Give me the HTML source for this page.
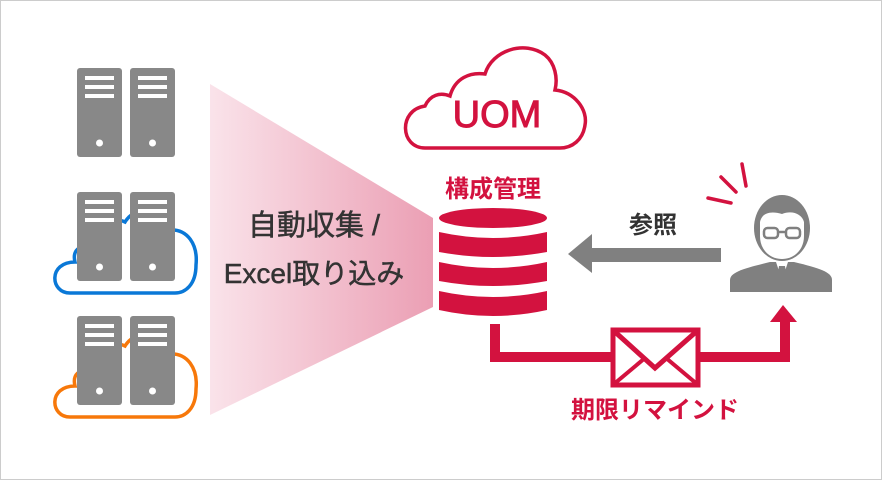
<!DOCTYPE html>
<html><head><meta charset="utf-8"><style>
html,body{margin:0;padding:0;background:#fff}
body{width:882px;height:480px;overflow:hidden}
text{font-family:"Liberation Sans","Noto Sans CJK JP",sans-serif}
</style></head><body>
<svg width="882" height="480" viewBox="0 0 882 480" xmlns="http://www.w3.org/2000/svg">
<defs>
<linearGradient id="g" x1="0" x2="1" y1="0" y2="0">
<stop offset="0" stop-color="#fae3ea"/><stop offset="1" stop-color="#eb9fb4"/>
</linearGradient>
<g id="srv">
<rect x="0" y="0" width="45" height="89" rx="3" fill="#888"/>
<rect x="8" y="8" width="29" height="4" fill="#fff"/>
<rect x="8" y="17" width="29" height="4" fill="#fff"/>
<rect x="8" y="26" width="29" height="4" fill="#fff"/>
<circle cx="22.5" cy="75" r="3.5" fill="#fff"/>
</g>
</defs>
<rect x="0.5" y="0.5" width="881" height="479" fill="#fff" stroke="#ccc"/>
<polygon points="210,84 433,218 433,307 210,415" fill="url(#g)"/>
<path d="M75,262 C72,250 80,245 90,246 C92,225 110,215 125,222 C135,205 160,208 168,230 C188,228 198,245 196,265 C196,285 185,293 175,293 L70,293 C50,293 48,262 75,262 Z" fill="none" stroke="#0a78d7" stroke-width="3.5"/>
<path d="M75,386 C72,374 80,369 90,370 C92,349 110,339 125,346 C135,329 160,332 168,354 C188,352 198,369 196,389 C196,409 185,417 175,417 L70,417 C50,417 48,386 75,386 Z" fill="none" stroke="#f7780a" stroke-width="3.5"/>
<use href="#srv" x="77" y="68"/><use href="#srv" x="130" y="68"/>
<use href="#srv" x="77" y="192"/><use href="#srv" x="130" y="192"/>
<use href="#srv" x="77" y="316"/><use href="#srv" x="130" y="316"/>
<text x="314" y="235" font-size="29" fill="#333" stroke="#333" stroke-width="0.5" text-anchor="middle">自動収集 /</text>
<text x="314" y="283" font-size="28" fill="#333" stroke="#333" stroke-width="0.5" text-anchor="middle">Excel取り込み</text>
<path d="M425,148 C400,148 398,110 425,106 C430,95 440,92 450,96 C455,78 470,72 485,74 C492,50 525,40 545,55 C555,63 558,78 555,90 C575,92 588,110 585,125 C583,140 572,148 560,148 Z" fill="none" stroke="#d3123f" stroke-width="3.5"/>
<text x="497" y="127" font-size="38" fill="#d3123f" stroke="#d3123f" stroke-width="1" text-anchor="middle">UOM</text>
<text x="493" y="197" font-size="24" font-weight="bold" fill="#d3123f" text-anchor="middle">構成管理</text>
<g fill="#d3123f">
<ellipse cx="493" cy="218" rx="54" ry="10"/>
<path d="M439,232 Q493,244 547,232 L547,252 Q493,262 439,252 Z"/>
<path d="M439,262 Q493,274 547,262 L547,281 Q493,291 439,281 Z"/>
<path d="M439,291 Q493,303 547,291 L547,310 Q493,322 439,310 Z"/>
</g>
<polygon points="568,254 592,234 592,248 721,248 721,262 592,262 592,273" fill="#808080"/>
<text x="653" y="233" font-size="24" font-weight="bold" fill="#333" text-anchor="middle">参照</text>
<path d="M730,292 L730,280 C730,272 745,268 770,262 L794,262 C819,268 832,272 832,280 L832,292 Z" fill="#808080"/>
<path d="M776,262 L782,280 L788,262 Z" fill="#fff"/>
<path d="M779,266 L785,266 L788,284 L776,284 Z" fill="#808080"/>
<ellipse cx="782" cy="228" rx="28" ry="33" fill="#808080"/>
<path d="M760,222 C762,212 772,211 782,214 C792,210 802,214 804,222 L804,236 C804,250 794,259 782,259 C770,259 760,250 760,236 Z" fill="#fff"/>
<rect x="764" y="228" width="14" height="10" rx="3.5" fill="none" stroke="#808080" stroke-width="2.5"/>
<rect x="786" y="228" width="14" height="10" rx="3.5" fill="none" stroke="#808080" stroke-width="2.5"/>
<line x1="778" y1="232" x2="786" y2="232" stroke="#808080" stroke-width="2.5"/>
<g stroke="#d3123f" stroke-width="3.5" stroke-linecap="round">
<line x1="708" y1="198" x2="731" y2="203"/>
<line x1="721" y1="177" x2="736" y2="192"/>
<line x1="742" y1="164" x2="746" y2="186"/>
</g>
<polyline points="495,324 495,357 613,357" fill="none" stroke="#d3123f" stroke-width="10"/>
<polyline points="698,357 785,357 785,318" fill="none" stroke="#d3123f" stroke-width="10"/>
<polygon points="783,305 770,322 797,322" fill="#d3123f"/>
<rect x="613" y="330" width="85" height="55" fill="#fff" stroke="#d3123f" stroke-width="5"/>
<polyline points="614,331 655,368 697,331" fill="none" stroke="#d3123f" stroke-width="5"/>
<line x1="614" y1="384" x2="645" y2="358" stroke="#d3123f" stroke-width="4"/>
<line x1="697" y1="384" x2="666" y2="358" stroke="#d3123f" stroke-width="4"/>
<text x="655" y="418" font-size="24" font-weight="bold" fill="#d3123f" text-anchor="middle">期限リマインド</text>
</svg>
</body></html>
